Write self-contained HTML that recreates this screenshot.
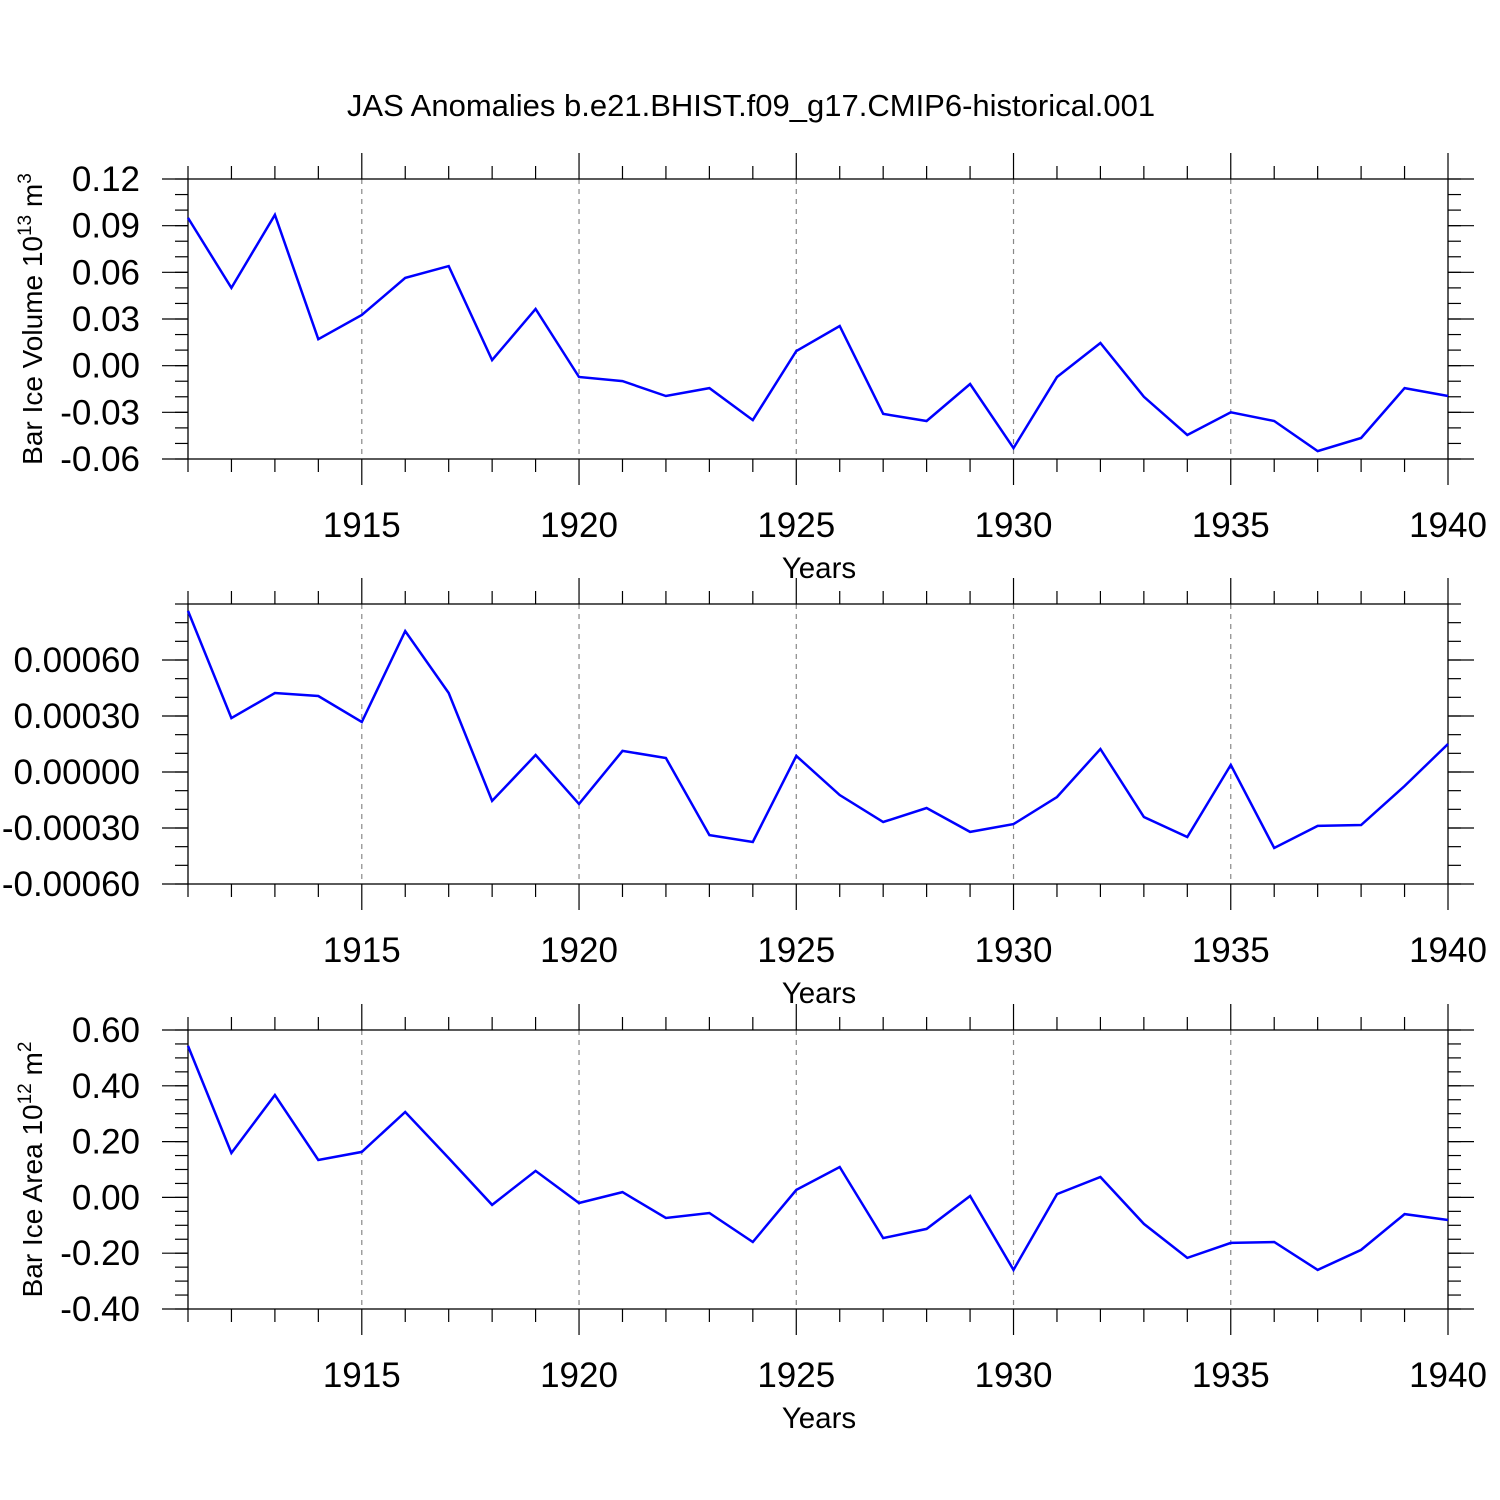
<!DOCTYPE html>
<html><head><meta charset="utf-8"><style>
html,body{margin:0;padding:0;background:#fff}
svg{display:block;font-family:"Liberation Sans",sans-serif}
</style></head><body>
<svg id="chart" width="1500" height="1500" viewBox="0 0 1500 1500">
<text x="751" y="116" font-size="31" text-anchor="middle">JAS Anomalies b.e21.BHIST.f09_g17.CMIP6-historical.001</text>
</svg>
<script>
const years = [1911,1912,1913,1914,1915,1916,1917,1918,1919,1920,1921,1922,1923,1924,1925,1926,1927,1928,1929,1930,1931,1932,1933,1934,1935,1936,1937,1938,1939,1940];
const volumeValues = [0.095,0.050,0.097,0.017,0.0326,0.0564,0.064,0.0036,0.0364,-0.0073,-0.0099,-0.0195,-0.0144,-0.035,0.0094,0.0255,-0.031,-0.0356,-0.0118,-0.053,-0.0073,0.0146,-0.020,-0.0446,-0.030,-0.0356,-0.0549,-0.0465,-0.0144,-0.0195];
const middleValues = [0.000863,0.000289,0.000423,0.000407,0.000268,0.000755,0.000423,-0.000155,0.000091,-0.000171,0.000113,0.000075,-0.000338,-0.000375,0.000086,-0.000123,-0.000268,-0.000193,-0.000321,-0.000279,-0.000134,0.000123,-0.000241,-0.000348,0.000038,-0.000407,-0.000289,-0.000284,-0.000075,0.00015];
const areaValues = [0.543,0.159,0.367,0.134,0.163,0.306,0.141,-0.027,0.095,-0.02,0.019,-0.074,-0.056,-0.16,0.027,0.109,-0.146,-0.113,0.005,-0.26,0.012,0.073,-0.095,-0.217,-0.163,-0.16,-0.26,-0.188,-0.06,-0.081];
const xTickYears = [1915,1920,1925,1930,1935,1940];
const volumeTicks = ["0.12","0.09","0.06","0.03","0.00","-0.03","-0.06"];
const middleTicks = ["0.00060","0.00030","0.00000","-0.00030","-0.00060"];
const areaTicks = ["0.60","0.40","0.20","0.00","-0.20","-0.40"];

const NS="http://www.w3.org/2000/svg";
const svg=document.getElementById('chart');
function mk(tag,attrs,parent){const e=document.createElementNS(NS,tag);for(const k in attrs)e.setAttribute(k,attrs[k]);(parent||svg).appendChild(e);return e;}
const X0=188,X1=1448;
function xs(yr){return X0+(yr-1911)/(1940-1911)*(X1-X0);}

function panel(id,top,bot,ymin,ymax,vals,ticks,minorStep,ytitle,supText,supUnit){
  const g=mk('g',{});
  
  
  const ys=v=>bot-(v-ymin)/(ymax-ymin)*(bot-top);
  xTickYears.forEach(yr=>{ if(yr<1940){const l=mk('line',{x1:xs(yr),x2:xs(yr),y1:top,y2:bot,stroke:'#888','stroke-width':1.2,'stroke-dasharray':'5,5'},g);
    }});
  const fr=mk('rect',{x:X0,y:top,width:X1-X0,height:bot-top,fill:'none',stroke:'#000','stroke-width':1.3},g);
  
  for(let yr=1911;yr<=1940;yr++){
    const maj=yr%5===0, L=maj?26:13, x=xs(yr);
    mk('line',{x1:x,x2:x,y1:top-L,y2:top,stroke:'#000','stroke-width':1.2},g);
    mk('line',{x1:x,x2:x,y1:bot,y2:bot+L,stroke:'#000','stroke-width':1.2},g);
  }
  xTickYears.forEach(yr=>{const t=mk('text',{x:xs(yr),y:bot+78,'font-size':35,'text-anchor':'middle'},g);t.textContent=yr;
    });
  for(let v=ymin;v<=ymax+1e-12;v+=minorStep){
    const y=ys(v);
    mk('line',{x1:X0-13,x2:X0,y1:y,y2:y,stroke:'#000','stroke-width':1.2},g);
    mk('line',{x1:X1,x2:X1+13,y1:y,y2:y,stroke:'#000','stroke-width':1.2},g);
  }
  ticks.forEach(s=>{const v=parseFloat(s),y=ys(v);
    mk('line',{x1:X0-26,x2:X0,y1:y,y2:y,stroke:'#000','stroke-width':1.2},g);
    mk('line',{x1:X1,x2:X1+26,y1:y,y2:y,stroke:'#000','stroke-width':1.2},g);
    const t=mk('text',{x:140,y:y+12,'font-size':35,'text-anchor':'end'},g);t.textContent=s;
    });
  const pts=vals.map((v,i)=>xs(years[i]).toFixed(1)+','+ys(v).toFixed(1)).join(' ');
  const pl=mk('polyline',{points:pts,fill:'none',stroke:'#0000ff','stroke-width':2.5,'stroke-linejoin':'miter'},g);
  
  const xt=mk('text',{x:819,y:bot+119,'font-size':29.5,'text-anchor':'middle'},g);xt.textContent='Years';
  
  if(ytitle){
    const cy=(top+bot)/2;
    const t=mk('text',{x:0,y:0,'font-size':28,'text-anchor':'middle',transform:`translate(42,${cy}) rotate(-90)`},g);
    
    t.appendChild(document.createTextNode(ytitle+' 10'));
    const s1=mk('tspan',{dy:-11,'font-size':19},t);s1.textContent=supText;
    const s2=mk('tspan',{dy:11},t);s2.textContent=' m';
    const s3=mk('tspan',{dy:-11,'font-size':19},t);s3.textContent=supUnit;
  }
}
panel('volume',179,459,-0.06,0.12,volumeValues,volumeTicks,0.01,'Bar Ice Volume','13','3');
panel('middle',604,884,-0.0006,0.0009,middleValues,middleTicks,0.0001,null);
panel('area',1030,1309,-0.4,0.6,areaValues,areaTicks,0.05,'Bar Ice Area','12','2');
</script>
</body></html>
